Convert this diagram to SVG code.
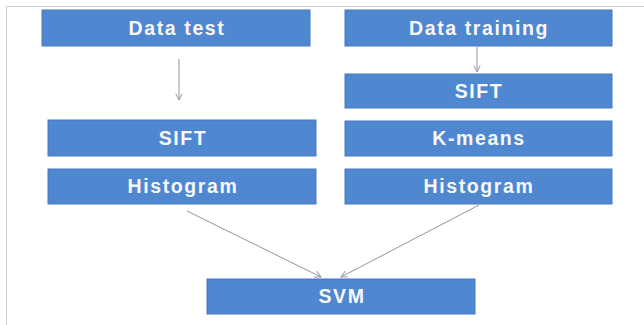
<svg xmlns="http://www.w3.org/2000/svg" width="644" height="325" viewBox="0 0 644 325">
  <defs>
    <style>
      .box { fill: #4f87d1; stroke: #4679be; stroke-width: 1; }
      .lbl { fill: #f8f8f8; font-family: "Liberation Sans", Arial, sans-serif; font-weight: bold; font-size: 19.5px; letter-spacing: 1.6px; text-anchor: middle; }
      .edge { stroke: #8d97a5; stroke-width: 1; fill: none; marker-end: url(#arr); }
    </style>
    <marker id="arr" viewBox="0 0 10 10" refX="9" refY="5" markerWidth="8" markerHeight="8" orient="auto" markerUnits="userSpaceOnUse">
      <path d="M1,1 L9,5 L1,9" fill="none" stroke="#8d97a5" stroke-width="1.2"/>
    </marker>
  </defs>
  <rect width="644" height="325" fill="#ffffff"/>
  <!-- frame -->
  <path d="M6.5,325 L6.5,6.5 L644,6.5" fill="none" stroke="#cfcfcf" stroke-width="1"/>

  <g id="data-test">
    <rect class="box" x="42" y="10" width="268" height="36"/>
    <text class="lbl" x="177" y="34.5">Data test</text>
  </g>
  <g id="data-training">
    <rect class="box" x="345" y="10" width="267" height="36"/>
    <text class="lbl" x="479" y="34.5">Data training</text>
  </g>
  <g id="sift-test">
    <rect class="box" x="48" y="120" width="268" height="36"/>
    <text class="lbl" x="183" y="145">SIFT</text>
  </g>
  <g id="sift-training">
    <rect class="box" x="345" y="74" width="267" height="34"/>
    <text class="lbl" x="479" y="98">SIFT</text>
  </g>
  <g id="kmeans">
    <rect class="box" x="345" y="121" width="267" height="35"/>
    <text class="lbl" x="479" y="145">K-means</text>
  </g>
  <g id="histogram-test">
    <rect class="box" x="48" y="169" width="268" height="35"/>
    <text class="lbl" x="183" y="193">Histogram</text>
  </g>
  <g id="histogram-training">
    <rect class="box" x="345" y="169" width="267" height="35"/>
    <text class="lbl" x="479" y="193">Histogram</text>
  </g>
  <g id="svm">
    <rect class="box" x="207" y="279" width="268" height="35"/>
    <text class="lbl" x="342" y="303">SVM</text>
  </g>

  <g id="connectors">
    <line class="edge" x1="179" y1="59" x2="179" y2="100"/>
    <line class="edge" x1="477" y1="47" x2="477" y2="72"/>
    <line class="edge" x1="187" y1="211" x2="321" y2="277"/>
    <line class="edge" x1="479" y1="205" x2="341" y2="277"/>
  </g>
</svg>
